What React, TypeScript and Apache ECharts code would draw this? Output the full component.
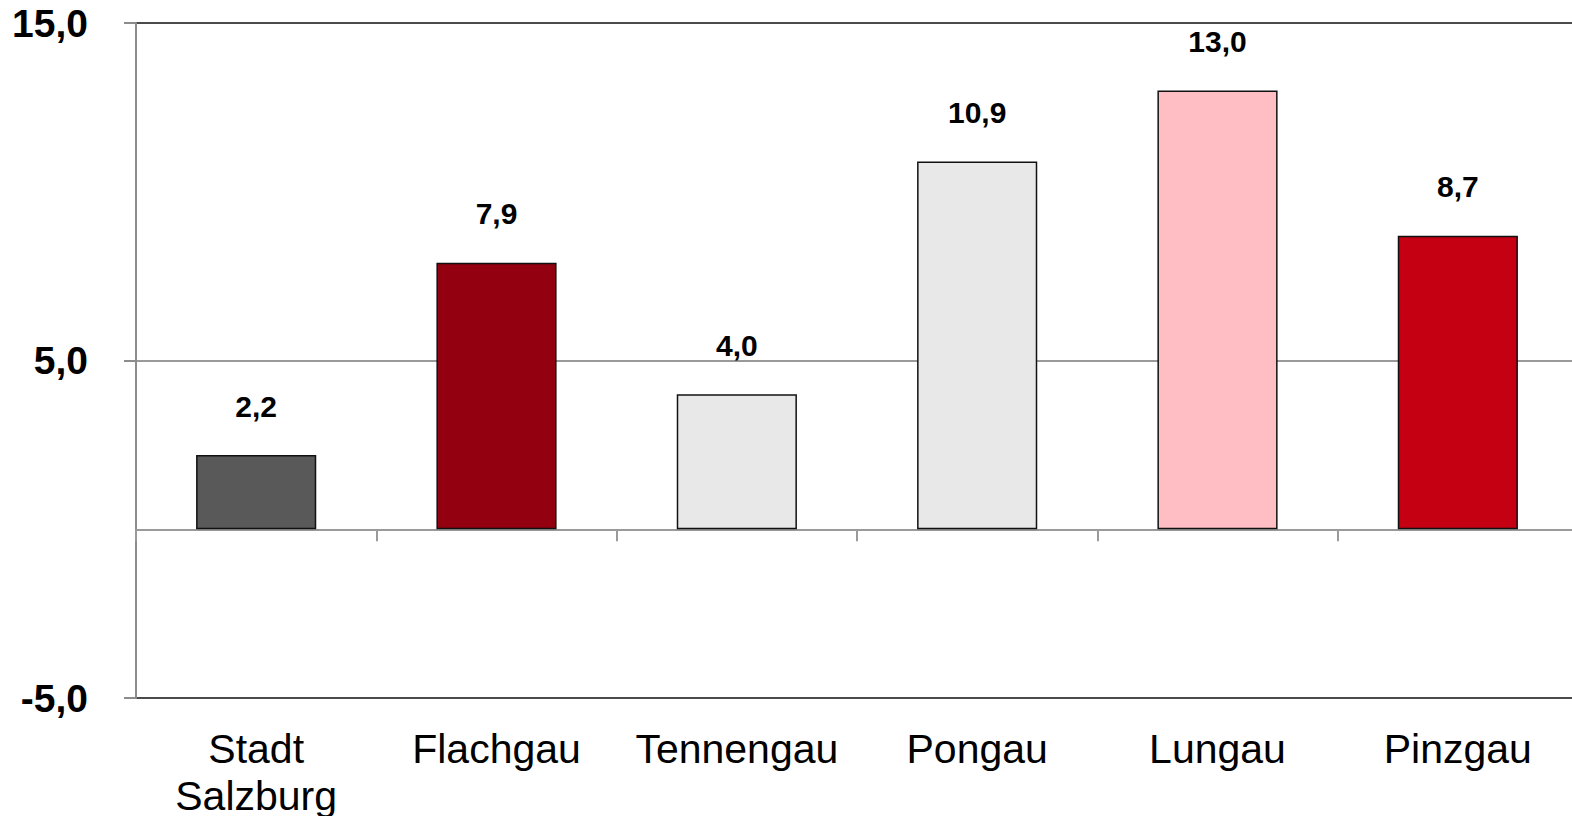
import React, { useEffect, useRef } from "react";
import * as echarts from "echarts";

const categories = ["Stadt\nSalzburg", "Flachgau", "Tennengau", "Pongau", "Lungau", "Pinzgau"];
const values = [2.2, 7.9, 4.0, 10.9, 13.0, 8.7];
const barColors = ["#595959", "#93000f", "#e8e8e8", "#e8e8e8", "#ffbec3", "#c40012"];
const yMin = -5;
const yMax = 15;
const yInterval = 10;

const FONT = "'Liberation Sans', Arial, sans-serif";

export default function App() {
  const ref = useRef<HTMLDivElement>(null);
  useEffect(() => {
    if (!ref.current) return;
    const chart = echarts.init(ref.current, null, { renderer: "svg" });
    chart.setOption({
      animation: false,
      backgroundColor: "#ffffff",
      grid: {
        left: 136,
        right: 0,
        top: 23,
        bottom: 118,
        containLabel: false,
        outerBoundsMode: "none",
        show: true,
        borderColor: "#111111",
        borderWidth: 1.5,
        backgroundColor: "transparent",
      },
      xAxis: [
        {
          type: "category",
          data: categories,
          position: "bottom",
          axisLine: { onZero: true, lineStyle: { color: "#9a9a9a", width: 2 } },
          axisTick: { show: true, length: 12, lineStyle: { color: "#9a9a9a", width: 2 } },
          axisLabel: { show: false },
          splitLine: { show: false },
        },
        {
          type: "category",
          data: categories,
          position: "bottom",
          axisLine: { show: false, onZero: false },
          axisTick: { show: false },
          axisLabel: {
            show: true,
            interval: 0,
            margin: 27,
            fontFamily: FONT,
            fontSize: 41,
            lineHeight: 47,
            color: "#000000",
          },
          splitLine: { show: false },
        },
      ],
      yAxis: {
        type: "value",
        min: yMin,
        max: yMax,
        interval: yInterval,
        axisLine: { show: true, lineStyle: { color: "#8c8c8c", width: 2 } },
        axisTick: { show: true, length: 12, inside: false, lineStyle: { color: "#8c8c8c", width: 2 } },
        axisLabel: {
          margin: 48,
          fontFamily: FONT,
          fontSize: 39,
          fontWeight: "bold",
          color: "#000000",
          formatter: (v: number) => v.toFixed(1).replace(".", ","),
        },
        splitLine: {
          show: true,
          showMinLine: false,
          showMaxLine: false,
          lineStyle: { color: "#9a9a9a", width: 2 },
        },
      },
      series: [
        {
          type: "bar",
          xAxisIndex: 0,
          barWidth: "50%",
          data: values.map((v, i) => ({
            value: v,
            itemStyle: { color: barColors[i], borderColor: "#111111", borderWidth: 1.5 },
          })),
          label: {
            show: true,
            position: "top",
            distance: 34,
            fontFamily: FONT,
            fontSize: 30,
            fontWeight: "bold",
            color: "#000000",
            formatter: (p: any) => Number(p.value).toFixed(1).replace(".", ","),
          },
        },
      ],
    });
    return () => chart.dispose();
  }, []);
  return (
    <div style={{ position: "absolute", left: 0, top: 0, width: 1572, height: 816, overflow: "hidden" }}>
      <div ref={ref} style={{ position: "absolute", left: 0, top: 0, width: 1578, height: 816 }} />
    </div>
  );
}
